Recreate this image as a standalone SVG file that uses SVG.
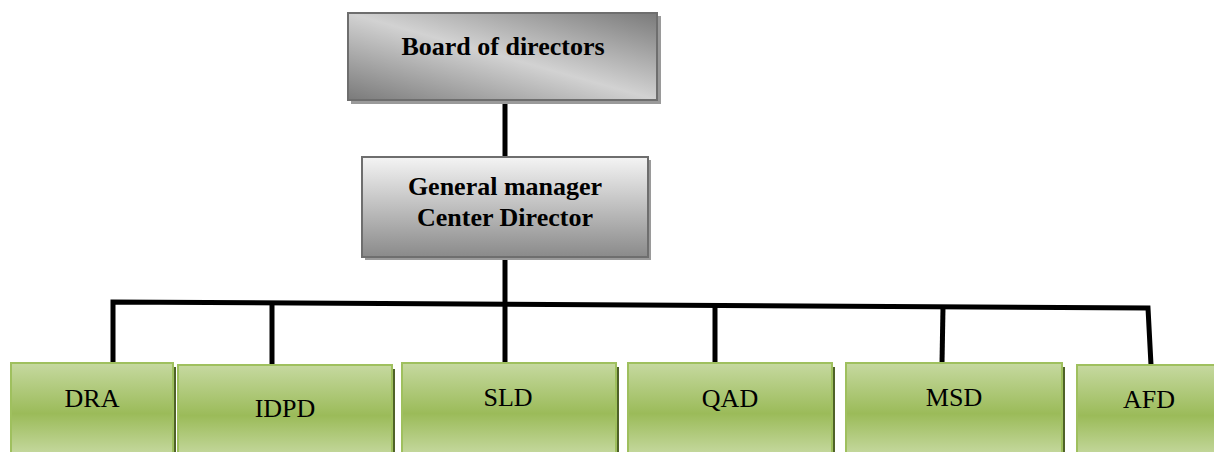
<svg xmlns="http://www.w3.org/2000/svg" width="1214" height="452" viewBox="0 0 1214 452">
<defs>
<linearGradient id="gBoard" x1="1" y1="0" x2="0" y2="1">
<stop offset="0" stop-color="#7a7a7a"/>
<stop offset="0.5" stop-color="#d2d2d2"/>
<stop offset="1" stop-color="#7a7a7a"/>
</linearGradient>
<linearGradient id="gGM" x1="0" y1="0" x2="0" y2="1">
<stop offset="0" stop-color="#f4f4f4"/>
<stop offset="1" stop-color="#8a8a8a"/>
</linearGradient>
<linearGradient id="gGreen" x1="0" y1="0" x2="0" y2="1">
<stop offset="0" stop-color="#c6d9a0"/>
<stop offset="0.55" stop-color="#9bbb59"/>
<stop offset="1" stop-color="#c6d9a0"/>
</linearGradient>
</defs>
<style>
.grey{stroke:#6e6e6e;stroke-width:2}
.gshadow{fill:#9a9a9a}
.green{fill:url(#gGreen);stroke:#9fc05e;stroke-width:2}
.greenshadow{fill:#4f6228}
.tb{font-family:"Liberation Serif","Times New Roman",serif;font-weight:bold;font-size:26px;fill:#000;text-anchor:middle}
.tn{font-family:"Liberation Serif","Times New Roman",serif;font-size:26px;fill:#000;text-anchor:middle}
.conn{stroke:#000;stroke-width:5;fill:none;stroke-linejoin:miter}
</style>
<g id="connectors">
<path class="conn" d="M505 100 V157"/>
<path class="conn" d="M505 257 V363"/>
<path class="conn" d="M113 365 V302 L1148 308 L1151 365"/>
<path class="conn" d="M272 303 V365"/>
<path class="conn" d="M715 305 V363"/>
<path class="conn" d="M943 307 L942 363"/>
</g>
<g id="board">
<rect class="gshadow" x="351" y="16" width="310" height="88"/>
<rect class="grey" x="348" y="13" width="309" height="87" fill="url(#gBoard)"/>
<text class="tb" x="503" y="55">Board of directors</text>
</g>
<g id="gm">
<rect class="gshadow" x="365" y="160" width="286" height="100"/>
<rect class="grey" x="362" y="157" width="286" height="100" fill="url(#gGM)"/>
<text class="tb" x="505" y="195">General manager</text>
<text class="tb" x="505" y="226">Center Director</text>
</g>
<g id="dra">
<rect class="greenshadow" x="14" y="367" width="162" height="90"/>
<rect class="green" x="11" y="363" width="162" height="92"/>
<text class="tn" x="92" y="407">DRA</text>
</g>
<g id="idpd">
<rect class="greenshadow" x="181" y="369" width="214" height="90"/>
<rect class="green" x="178" y="365" width="214" height="92"/>
<text class="tn" x="285" y="417">IDPD</text>
</g>
<g id="sld">
<rect class="greenshadow" x="405" y="367" width="214" height="90"/>
<rect class="green" x="402" y="363" width="214" height="92"/>
<text class="tn" x="508" y="406">SLD</text>
</g>
<g id="qad">
<rect class="greenshadow" x="631" y="367" width="204" height="90"/>
<rect class="green" x="628" y="363" width="204" height="92"/>
<text class="tn" x="730" y="407">QAD</text>
</g>
<g id="msd">
<rect class="greenshadow" x="849" y="367" width="216" height="90"/>
<rect class="green" x="846" y="363" width="216" height="92"/>
<text class="tn" x="954" y="406">MSD</text>
</g>
<g id="afd">
<rect class="greenshadow" x="1080" y="369" width="146" height="90"/>
<rect class="green" x="1077" y="365" width="146" height="92"/>
<text class="tn" x="1149" y="408">AFD</text>
</g>
</svg>
